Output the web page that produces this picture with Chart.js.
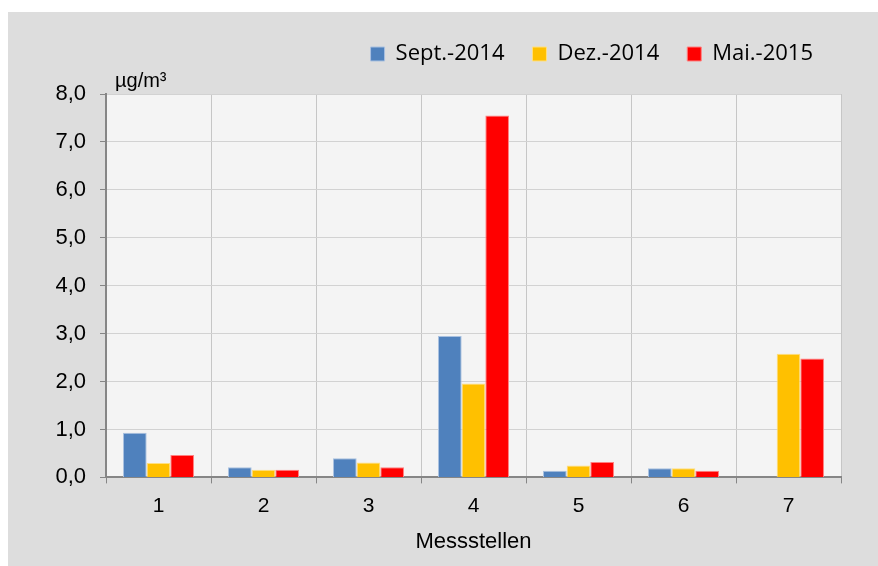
<!DOCTYPE html>
<html>
<head>
<meta charset="utf-8">
<script src="https://cdn.jsdelivr.net/npm/chart.js@4.4.1/dist/chart.umd.min.js"></script>
<style>
    body { margin: 0; background: #ffffff; }
    #frame {
        position: absolute;
        left: 8px;
        top: 12px;
        width: 870px;
        height: 554px;
        background: #dddddd;
    }
</style>
</head>
<body>
<div id="frame"><canvas id="chart" width="870" height="554"></canvas></div>
<script>
// --- data ---
const stations = ["1", "2", "3", "4", "5", "6", "7"];
const seriesNames = ["Sept.-2014", "Dez.-2014", "Mai.-2015"];
const sept2014 = [0.93, 0.21, 0.40, 2.95, 0.14, 0.19, null];
const dez2014 = [0.30, 0.16, 0.31, 1.96, 0.25, 0.19, 2.58];
const mai2015 = [0.47, 0.16, 0.21, 7.55, 0.32, 0.14, 2.48];
const yMin = 0;
const yMax = 8;
const yStep = 1;
const unitLabel = "µg/m³";
const xTitle = "Messstellen";

const fillColors = ["#4f81bd", "#ffc000", "#ff0000"];
const edgeColors = ["#a9c1e0", "#ffdf80", "#ff8080"];

// plot area background
const plotBackground = {
    id: "plotBackground",
    beforeDraw(chart) {
        const { ctx, chartArea: a } = chart;
        ctx.save();
        ctx.fillStyle = "#f4f4f4";
        ctx.fillRect(a.left, a.top, a.right - a.left, a.bottom - a.top);
        ctx.restore();
    }
};

// extra room between legend and plot (legend has no margin option)
const legendGap = {
    id: "legendGap",
    afterInit(chart) {
        const legend = chart.legend;
        if (!legend) return;
        const fit = legend.fit.bind(legend);
        legend.fit = function () {
            fit();
            this.height += 19;
        };
    }
};

// unit label above the y axis (horizontal, like the original)
const unitTitle = {
    id: "unitTitle",
    afterDraw(chart) {
        const { ctx, chartArea: a } = chart;
        ctx.save();
        ctx.font = "20px 'Liberation Sans', Arial, sans-serif";
        ctx.fillStyle = "#000000";
        ctx.textAlign = "left";
        ctx.textBaseline = "alphabetic";
        ctx.fillText(unitLabel, a.left + 9, a.top - 7);
        ctx.restore();
    }
};

const datasets = [sept2014, dez2014, mai2015].map((values, i) => ({
    label: seriesNames[i],
    data: values,
    backgroundColor: fillColors[i],
    borderColor: edgeColors[i],
    borderWidth: 1,
    categoryPercentage: 0.676,
    barPercentage: 1.0
}));

new Chart(document.getElementById("chart"), {
    type: "bar",
    data: { labels: stations, datasets: datasets },
    options: {
        responsive: false,
        animation: false,
        layout: { padding: { top: 3, right: 37, bottom: 11, left: 0 } },
        plugins: {
            legend: {
                position: "top",
                align: "end",
                labels: {
                    boxWidth: 14,
                    boxHeight: 14,
                    padding: 28,
                    color: "#000000",
                    font: { family: "'Open Sans', sans-serif", size: 22 }
                }
            },
            tooltip: { enabled: false }
        },
        scales: {
            x: {
                offset: true,
                grid: {
                    offset: true,
                    color: "#c6c6c6",
                    tickColor: "#868686",
                    tickLength: 6,
                    lineWidth: 1
                },
                border: { color: "#868686", width: 2 },
                ticks: {
                    color: "#000000",
                    padding: 10,
                    font: { family: "'Liberation Sans', Arial, sans-serif", size: 21 }
                },
                title: {
                    display: true,
                    text: xTitle,
                    color: "#000000",
                    padding: { top: 0, bottom: 0 },
                    font: { family: "'Liberation Sans', Arial, sans-serif", size: 22 }
                }
            },
            y: {
                min: yMin,
                max: yMax,
                afterFit(scale) { scale.width = 98; },
                grid: {
                    color: "#d2d2d2",
                    tickColor: "#868686",
                    tickLength: 6,
                    lineWidth: 1
                },
                border: { color: "#868686", width: 2 },
                ticks: {
                    stepSize: yStep,
                    color: "#000000",
                    padding: 14,
                    font: { family: "'Liberation Sans', Arial, sans-serif", size: 22 },
                    callback: v => v.toFixed(1).replace(".", ",")
                }
            }
        }
    },
    plugins: [plotBackground, legendGap, unitTitle]
});
</script>
</body>
</html>
